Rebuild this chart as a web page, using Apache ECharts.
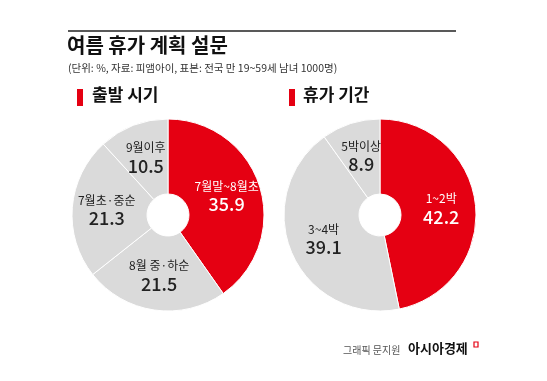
<!DOCTYPE html>
<html>
<head>
<meta charset="utf-8">
<script src="https://cdn.jsdelivr.net/npm/echarts@6/dist/echarts.min.js"></script>
<style>
  html, body { margin: 0; padding: 0; background: #fff; }
  #main { width: 547px; height: 381px; }
</style>
</head>
<body>
<div id="main"></div>
<script>
// 출발 시기 (departure timing)
const departNames = ["7월말~8월초", "8월 중·하순", "7월초·중순", "9월이후"];
const departValues = [35.9, 21.5, 21.3, 10.5];
// 휴가 기간 (vacation length)
const lengthNames = ["1~2박", "3~4박", "5박이상"];
const lengthValues = [42.2, 39.1, 8.9];

const RED = "#e50012";
const GRAY = "#dadada";
const FONT = "'Noto Sans CJK KR', sans-serif";

function pieData(names, values) {
  return names.map((n, i) => ({
    name: n,
    value: values[i],
    itemStyle: { color: i === 0 ? RED : GRAY },
    label: { color: i === 0 ? "#fff" : "#222" }
  }));
}

function pieSeries(names, values, cx) {
  return {
    type: "pie",
    center: [cx, 215],
    radius: [21, 96],
    startAngle: 90,
    clockwise: true,
    silent: true,
    itemStyle: { borderColor: "#fff", borderWidth: 1 },
    label: {
      position: "inside",
      fontFamily: FONT,
      formatter: p => "{n|" + p.name + "}\n{v|" + p.value.toFixed(1) + "}",
      rich: {
        n: { fontSize: 12, lineHeight: 16, fontFamily: FONT },
        v: { fontSize: 18, lineHeight: 20, fontWeight: 500, fontFamily: FONT }
      }
    },
    labelLine: { show: false },
    data: pieData(names, values)
  };
}

let myChart = echarts.init(document.getElementById("main"));
let option = {
  backgroundColor: "#fff",
  animation: false,
  graphic: [
    { type: "line", shape: { x1: 68, y1: 31, x2: 456, y2: 31 }, style: { stroke: "#222", lineWidth: 1.5 } },
    { type: "text", left: 67, top: 35, style: { text: "여름 휴가 계획 설문", font: "bold 20px " + FONT, fill: "#111" } },
    { type: "text", left: 68, top: 63, style: { text: "(단위: %, 자료: 피앰아이, 표본: 전국 만 19~59세 남녀 1000명)", font: "10.5px " + FONT, fill: "#333" } },
    { type: "rect", shape: { x: 77, y: 89, width: 6, height: 17 }, style: { fill: RED } },
    { type: "text", left: 92, top: 86, style: { text: "출발 시기", font: "bold 17px " + FONT, fill: "#111" } },
    { type: "rect", shape: { x: 289, y: 89, width: 6, height: 17 }, style: { fill: RED } },
    { type: "text", left: 303, top: 86, style: { text: "휴가 기간", font: "bold 17px " + FONT, fill: "#111" } },
    { type: "text", left: 343, top: 345, style: { text: "그래픽 문지원", font: "10px " + FONT, fill: "#555" } },
    { type: "text", left: 408, top: 342, style: { text: "아시아경제", font: "bold 13px " + FONT, fill: "#111" } },
    { type: "rect", shape: { x: 474, y: 342, width: 4, height: 5 }, style: { fill: "none", stroke: RED, lineWidth: 1.2 } }
  ],
  series: [
    pieSeries(departNames, departValues, 168),
    pieSeries(lengthNames, lengthValues, 380)
  ]
};
myChart.setOption(option);
</script>
</body>
</html>
